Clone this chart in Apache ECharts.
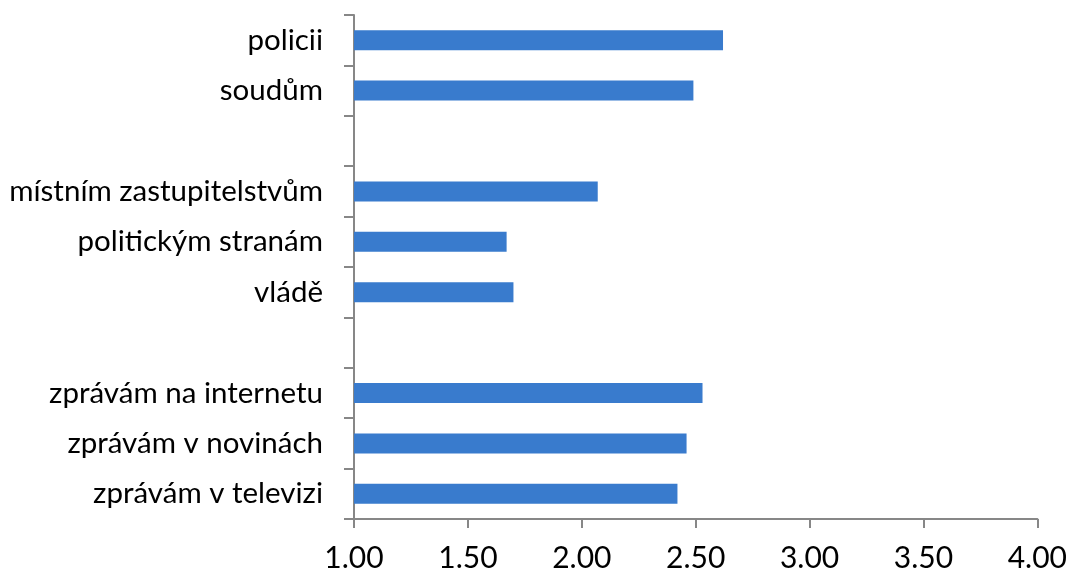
<!DOCTYPE html>
<html>
<head>
<meta charset="utf-8">
<script src="https://cdn.jsdelivr.net/npm/echarts@6/dist/echarts.min.js"></script>
<style>
html,body{margin:0;padding:0;background:#fff;}
#c{width:1070px;height:573px;}
</style>
</head>
<body>
<div id="c"></div>
<script>
// categories from bottom to top (blank rows are gaps)
const categories = ['zprávám v televizi', 'zprávám v novinách', 'zprávám na internetu', ' ', 'vládě', 'politickým stranám', 'místním zastupitelstvům', '  ', 'soudům', 'policii'];
const values = [2.42, 2.46, 2.53, null, 1.70, 1.67, 2.07, null, 2.49, 2.62];
const xTicks = { min: 1, max: 4, interval: 0.5 };

const font = 'Lato, "Open Sans", sans-serif';
const chart = echarts.init(document.getElementById('c'));
chart.setOption({
  animation: false,
  backgroundColor: '#ffffff',
  grid: { left: 354, right: 28, top: 15, bottom: 52, containLabel: false },
  xAxis: {
    type: 'value',
    min: xTicks.min, max: xTicks.max, interval: xTicks.interval,
    axisLine: { show: true, lineStyle: { color: '#878787', width: 2 } },
    axisTick: { show: true, length: 9, lineStyle: { color: '#878787', width: 2 } },
    splitLine: { show: false },
    axisLabel: { color: '#000', fontFamily: font, fontSize: 30, margin: 24, formatter: v => v.toFixed(2) }
  },
  yAxis: {
    type: 'category',
    data: categories,
    boundaryGap: true,
    axisLine: { show: true, lineStyle: { color: '#878787', width: 2 } },
    axisTick: { show: true, length: 10, alignWithLabel: false, lineStyle: { color: '#878787', width: 2 } },
    axisLabel: { color: '#000', fontFamily: font, fontSize: 29.5, margin: 31, interval: 0 }
  },
  series: [{
    type: 'bar',
    data: values,
    barWidth: 20,
    itemStyle: { color: '#397BCD' }
  }]
});
</script>
</body>
</html>
